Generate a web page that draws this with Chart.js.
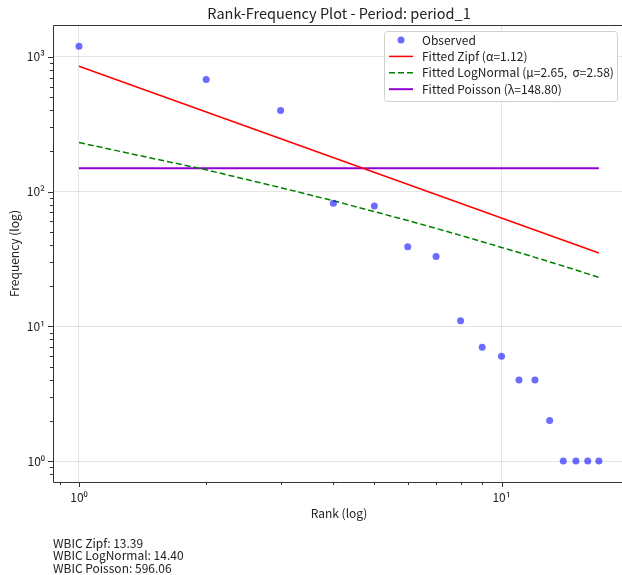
<!DOCTYPE html>
<html>
<head>
<meta charset="utf-8">
<title>Rank-Frequency Plot</title>
<script src="https://cdn.jsdelivr.net/npm/chart.js@4.4.1/dist/chart.umd.min.js"></script>
<style>
  html, body { margin: 0; padding: 0; background: #fff; overflow: hidden; }
  #wrap { width: 630px; height: 575px; position: relative; }
</style>
</head>
<body>
<div id="wrap"><canvas id="rank-chart"></canvas></div>
<script>
  // observed rank-frequency data
  const ranks = [1, 2, 3, 4, 5, 6, 7, 8, 9, 10, 11, 12, 13, 14, 15, 16, 17];
  const observed = [1200, 680, 400, 82, 78, 39, 33, 11, 7, 6, 4, 4, 2, 1, 1, 1, 1];

  // fitted curves
  const zipfRanks = [1, 17];
  const zipfFit = [850, 35];
  const logNormalFit = [231, 145, 107, 85.5, 71, 61, 53.3, 47.3, 42.5, 38.5, 35.3, 32.5, 30.1, 28, 26.2, 24.5, 23.1];
  const poissonRanks = [1, 17];
  const poissonFit = [148.8, 148.8];

  const seriesLabels = [
    'Observed',
    'Fitted Zipf (α=1.12)',
    'Fitted LogNormal (μ=2.65,  σ=2.58)',
    'Fitted Poisson (λ=148.80)'
  ];

  const xTickValues = [0.9, 1, 2, 3, 4, 5, 6, 7, 8, 9, 10];
  const yTickValues = [0.8, 0.9, 1, 2, 3, 4, 5, 6, 7, 8, 9, 10, 20, 30, 40, 50, 60, 70, 80, 90,
                       100, 200, 300, 400, 500, 600, 700, 800, 900, 1000];

  const wbicLines = ['WBIC Zipf: 13.39', 'WBIC LogNormal: 14.40', 'WBIC Poisson: 596.06'];
  const chartTitle = 'Rank-Frequency Plot - Period: period_1';

  const FONT = '"Noto Sans CJK JP", "Noto Sans", sans-serif';
  const TEXT = '#222';
  const SUP = ['⁰', '¹', '²', '³', '⁴'];

  function isMajor(v) {
    const e = Math.log10(v);
    return Math.abs(e - Math.round(e)) < 1e-9;
  }
  function fmtPow(v) {
    return isMajor(v) ? '10' + SUP[Math.round(Math.log10(v))] : '';
  }
  const pts = (xs, ys) => xs.map((x, i) => ({ x: x, y: ys[i] }));

  // frame, minor/major tick marks, title, legend and footer text
  const decor = {
    id: 'decor',
    afterDatasetsDraw(chart) {
      const { ctx, chartArea: a, scales } = chart;
      ctx.save();
      ctx.strokeStyle = '#333';
      ctx.lineWidth = 1;
      ctx.beginPath();
      ctx.moveTo(a.right, a.top + 0.5); ctx.lineTo(a.left + 0.5, a.top + 0.5);
      ctx.lineTo(a.left + 0.5, a.bottom + 0.5); ctx.lineTo(a.right, a.bottom + 0.5);
      ctx.stroke();

      ctx.beginPath();
      xTickValues.forEach(v => {
        const px = Math.round(scales.x.getPixelForValue(v)) + 0.5;
        const len = isMajor(v) ? 5 : 3;
        ctx.moveTo(px, a.bottom); ctx.lineTo(px, a.bottom + len);
      });
      yTickValues.forEach(v => {
        const py = Math.round(scales.y.getPixelForValue(v)) + 0.5;
        const len = isMajor(v) ? 5 : 3;
        ctx.moveTo(a.left, py); ctx.lineTo(a.left - len, py);
      });
      ctx.stroke();
      ctx.restore();
    },
    afterDraw(chart) {
      const { ctx, chartArea: a } = chart;
      ctx.save();
      ctx.fillStyle = TEXT;
      ctx.font = '14.5px ' + FONT;
      ctx.textAlign = 'center';
      ctx.textBaseline = 'middle';
      ctx.fillText(chartTitle, (a.left + a.right) / 2, 13);

      // legend box
      const bx = 384.5, by = 31.5, bw = 233, bh = 70;
      ctx.fillStyle = 'rgba(255,255,255,0.85)';
      ctx.strokeStyle = '#d0d0d0';
      ctx.lineWidth = 1;
      ctx.beginPath();
      ctx.roundRect(bx, by, bw, bh, 3);
      ctx.fill(); ctx.stroke();

      ctx.font = '12px ' + FONT;
      ctx.textAlign = 'left';
      chart.data.datasets.forEach((ds, i) => {
        const y = 40 + i * 16.4;
        if (ds.showLine) {
          ctx.strokeStyle = ds.borderColor;
          ctx.lineWidth = ds.borderWidth;
          ctx.setLineDash(ds.borderDash || []);
          ctx.beginPath();
          ctx.moveTo(389, y); ctx.lineTo(413, y);
          ctx.stroke();
          ctx.setLineDash([]);
        } else {
          ctx.fillStyle = ds.backgroundColor;
          ctx.beginPath();
          ctx.arc(401, y, 3.5, 0, Math.PI * 2);
          ctx.fill();
        }
        ctx.fillStyle = TEXT;
        ctx.fillText(ds.label, 422, y);
      });

      // WBIC summary
      ctx.font = '12px ' + FONT;
      wbicLines.forEach((t, i) => ctx.fillText(t, 53, 543 + i * 12.5));
      ctx.restore();
    }
  };

  new Chart(document.getElementById('rank-chart'), {
    type: 'scatter',
    data: {
      datasets: [
        {
          label: seriesLabels[0],
          data: pts(ranks, observed),
          backgroundColor: 'rgba(0,0,255,0.58)',
          borderWidth: 0,
          pointRadius: 3.5,
          order: 0
        },
        {
          label: seriesLabels[1],
          data: pts(zipfRanks, zipfFit),
          showLine: true,
          borderColor: '#ff0000',
          borderWidth: 1.5,
          pointRadius: 0,
          order: 1
        },
        {
          label: seriesLabels[2],
          data: pts(ranks, logNormalFit),
          showLine: true,
          borderColor: '#008000',
          borderWidth: 1.5,
          borderDash: [6, 3],
          pointRadius: 0,
          tension: 0,
          order: 2
        },
        {
          label: seriesLabels[3],
          data: pts(poissonRanks, poissonFit),
          showLine: true,
          borderColor: '#9400d3',
          borderWidth: 2,
          pointRadius: 0,
          order: 3
        }
      ]
    },
    options: {
      responsive: true,
      maintainAspectRatio: false,
      animation: false,
      layout: { padding: { top: 25, right: 5, bottom: 50, left: 0 } },
      plugins: {
        legend: { display: false },
        title: { display: false },
        tooltip: { enabled: false }
      },
      scales: {
        x: {
          type: 'logarithmic',
          min: 0.868,
          max: 19.6,
          afterFit: s => { s.height = 43; },
          afterBuildTicks: s => { s.ticks = xTickValues.map(v => ({ value: v })); },
          grid: {
            color: c => (c.tick && isMajor(c.tick.value)) ? 'rgba(0,0,0,0.1)' : 'rgba(0,0,0,0)',
            drawTicks: false
          },
          border: { display: false },
          ticks: {
            autoSkip: false,
            maxRotation: 0,
            padding: 8,
            color: TEXT,
            font: { size: 12, family: FONT },
            callback: v => fmtPow(v)
          },
          title: {
            display: true,
            text: 'Rank (log)',
            color: TEXT,
            font: { size: 12, family: FONT },
            padding: { top: 0, bottom: 4 }
          }
        },
        y: {
          type: 'logarithmic',
          min: 0.702,
          max: 1722,
          afterFit: s => { s.width = 53; },
          afterBuildTicks: s => { s.ticks = yTickValues.map(v => ({ value: v })); },
          grid: {
            color: c => (c.tick && isMajor(c.tick.value)) ? 'rgba(0,0,0,0.1)' : 'rgba(0,0,0,0)',
            drawTicks: false
          },
          border: { display: false },
          ticks: {
            autoSkip: false,
            padding: 8,
            color: TEXT,
            font: { size: 12, family: FONT },
            callback: v => fmtPow(v)
          },
          title: {
            display: true,
            text: 'Frequency (log)',
            color: TEXT,
            font: { size: 12, family: FONT },
            padding: { top: 7, bottom: 0 }
          }
        }
      }
    },
    plugins: [decor]
  });
</script>
</body>
</html>
